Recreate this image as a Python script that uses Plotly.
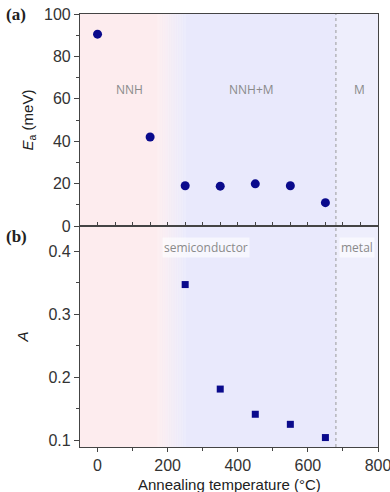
import plotly.graph_objects as go

# Activation energy vs annealing temperature (panel a)
temp_ea = [0, 150, 250, 350, 450, 550, 650]
ea_mev = [90.5, 42.0, 19.0, 18.8, 19.9, 19.0, 11.0]

# Fitting parameter A (panel b)
temp_a = [250, 350, 450, 550, 650]
a_vals = [0.347, 0.181, 0.141, 0.125, 0.104]

# Regime boundaries (°C)
BLEND_START, BLEND_END = 170, 250
METAL_EDGE = 680
X_RANGE = [-50, 800]

PINK = (253, 236, 238)
BLUE = (233, 233, 252)
NAVY = "#0a0a8c"
AXIS = "#444444"
TICKFONT = dict(family="Liberation Sans, Arial", size=16, color="#333333")
TITLEFONT = dict(family="Liberation Sans, Arial", size=15, color="#222222")

fig = go.Figure()

fig.add_trace(go.Scatter(
    x=temp_ea, y=ea_mev, mode="markers", xaxis="x2", yaxis="y",
    marker=dict(symbol="circle", size=9, color=NAVY), showlegend=False))
fig.add_trace(go.Scatter(
    x=temp_a, y=a_vals, mode="markers", xaxis="x", yaxis="y2",
    marker=dict(symbol="square", size=7, color=NAVY), showlegend=False))

# Background shading: pink (hopping) blending into blue
def rgb(c):
    return "rgb(%d,%d,%d)" % c

shapes = [dict(type="rect", xref="x", yref="paper", x0=X_RANGE[0], x1=BLEND_START,
               y0=0, y1=1, fillcolor=rgb(PINK), line_width=0, layer="below")]
steps = 40
w = (BLEND_END - BLEND_START) / steps
for i in range(steps):
    t = (i + 0.5) / steps
    c = tuple(round(PINK[k] + (BLUE[k] - PINK[k]) * t) for k in range(3))
    shapes.append(dict(type="rect", xref="x", yref="paper",
                       x0=BLEND_START + i * w, x1=BLEND_START + (i + 1) * w + 0.5,
                       y0=0, y1=1, fillcolor=rgb(c), line_width=0, layer="below"))
shapes.append(dict(type="rect", xref="x", yref="paper", x0=BLEND_END, x1=METAL_EDGE,
                   y0=0, y1=1, fillcolor=rgb(BLUE), line_width=0, layer="below"))
shapes.append(dict(type="rect", xref="x", yref="paper", x0=METAL_EDGE, x1=X_RANGE[1],
                   y0=0, y1=1, fillcolor="rgb(238,238,252)", line_width=0, layer="below"))
shapes.append(dict(type="line", xref="x", yref="paper", x0=METAL_EDGE, x1=METAL_EDGE,
                   y0=0, y1=1, line=dict(color="#999999", width=1, dash="dot")))

SPLIT = 221 / 433

axis_common = dict(showline=True, linecolor=AXIS, linewidth=1.2, showgrid=False,
                   zeroline=False, tickcolor=AXIS, tickfont=TICKFONT, automargin=False)

fig.update_layout(
    width=390, height=492,
    margin=dict(l=80, r=12, t=14, b=45),
    paper_bgcolor="white", plot_bgcolor="rgba(0,0,0,0)",
    shapes=shapes,
    xaxis=dict(**axis_common, range=X_RANGE, anchor="y2", domain=[0, 1],
               ticks="outside", ticklen=4, dtick=200, tick0=0, mirror=True,
               ticklabeloverflow="allow",
               minor=dict(ticks="outside", ticklen=3, dtick=100, tickcolor=AXIS)),
    xaxis2=dict(**axis_common, range=X_RANGE, anchor="y", matches="x",
                ticks="inside", ticklen=4, dtick=100, tick0=0, showticklabels=False,
                mirror=True,
                minor=dict(ticks="inside", ticklen=4, dtick=50, tickcolor=AXIS)),
    yaxis=dict(**axis_common, range=[0, 100], domain=[SPLIT, 1], anchor="x2",
               ticks="outside", ticklen=5, dtick=20, mirror=True,
               minor=dict(ticks="outside", ticklen=3, dtick=10, tickcolor=AXIS),
               title=dict(text="<i>E</i><sub>a</sub> (meV)", standoff=6, font=TITLEFONT)),
    yaxis2=dict(**axis_common, range=[0.089, 0.44], domain=[0, SPLIT], anchor="x",
                ticks="outside", ticklen=5, dtick=0.1, tick0=0.1, mirror=True,
                minor=dict(ticks="outside", ticklen=3, dtick=0.05, tickcolor=AXIS),
                title=dict(text="<i>A</i>", standoff=16, font=TITLEFONT)),
)

plot_w, plot_h = 390 - 80 - 12, 492 - 14 - 45

# x-axis title placed just below the tick labels
fig.add_annotation(x=0.5, y=1 - (484 - 14) / plot_h, xref="paper", yref="paper",
                   xanchor="center", yanchor="middle", showarrow=False,
                   text="Annealing temperature (°C)", font=TITLEFONT)

label_font = dict(family="Open Sans", size=12, color="#8a8a8a")
fig.add_annotation(x=90, y=64.6, xref="x2", yref="y", text="NNH", showarrow=False, font=label_font)
fig.add_annotation(x=440, y=64.6, xref="x2", yref="y", text="NNH+M", showarrow=False, font=label_font)
fig.add_annotation(x=746, y=64.6, xref="x2", yref="y", text="M", showarrow=False, font=label_font)
fig.add_annotation(x=309, y=0.406, xref="x", yref="y2", text="semiconductor", showarrow=False,
                   font=label_font, bgcolor="rgba(255,255,255,0.6)", borderpad=1)
fig.add_annotation(x=740, y=0.406, xref="x", yref="y2", text="metal", showarrow=False,
                   font=label_font, bgcolor="rgba(255,255,255,0.6)", borderpad=1)

# Panel tags, positioned in page pixels converted to paper fractions
panel_font = dict(family="Liberation Serif, Times New Roman", size=17, color="#222222")
for tag, py in (("(a)", 14), ("(b)", 237)):
    fig.add_annotation(x=(4 - 80) / plot_w, y=1 - (py - 14) / plot_h,
                       xref="paper", yref="paper", xanchor="left", yanchor="middle",
                       text="<b>%s</b>" % tag, showarrow=False, font=panel_font)

fig.write_html("out.html")
